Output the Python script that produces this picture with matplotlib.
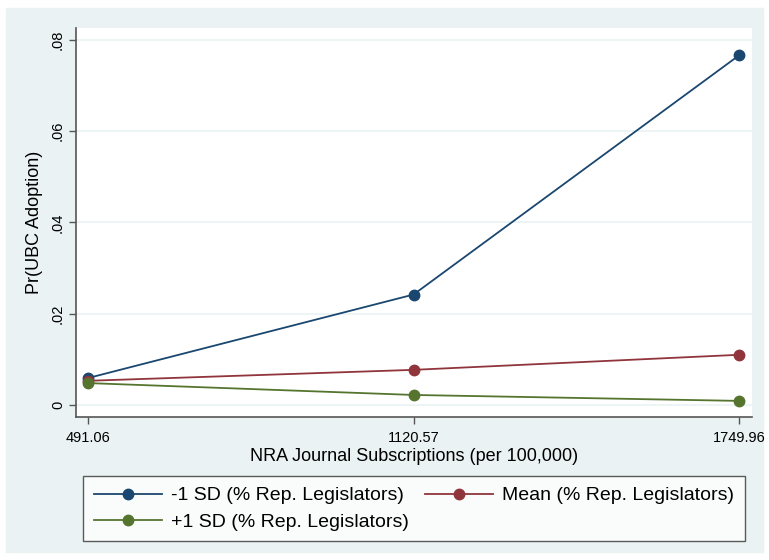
import matplotlib
matplotlib.use("Agg")
import matplotlib.pyplot as plt
import matplotlib.patches as patches

plt.rcParams['font.family'] = ['Liberation Sans', 'DejaVu Sans']

# data
nra = [491.06, 1120.57, 1749.96]
minus_sd = [0.0059, 0.0242, 0.0766]
mean_sd = [0.0053, 0.0077, 0.0110]
plus_sd = [0.0048, 0.0022, 0.0009]
yticks = [0, 0.02, 0.04, 0.06, 0.08]
ylabels = ['0', '.02', '.04', '.06', '.08']

navy = '#1a476f'
maroon = '#90353b'
green = '#55752f'
bg = '#eaf2f3'

W, H = 769, 560
fig = plt.figure(figsize=(W / 100, H / 100), dpi=100)
fig.patch.set_facecolor('white')
fig.patches.append(patches.Rectangle((6 / W, 8 / H), 757 / W, 544 / H,
                                     transform=fig.transFigure, color=bg, zorder=-10))

ax = fig.add_axes([76 / W, (H - 417) / H, 676 / W, 389 / H])
ax.set_facecolor('white')

h1, = ax.plot(nra, minus_sd, '-o', color=navy, lw=1.3, ms=7.5, label='-1 SD (% Rep. Legislators)', zorder=3)
h2, = ax.plot(nra, mean_sd, '-o', color=maroon, lw=1.3, ms=7.5, label='Mean (% Rep. Legislators)', zorder=3)
h3, = ax.plot(nra, plus_sd, '-o', color=green, lw=1.3, ms=7.5, label='+1 SD (% Rep. Legislators)', zorder=3)

ax.set_xlim(467.9, 1775.1)
ax.set_ylim(-0.00263, 0.0826)
ax.set_xticks(nra)
ax.set_xticklabels(['%.2f' % v for v in nra], fontsize=10.5)
ax.set_yticks(yticks)
ax.set_yticklabels(ylabels, fontsize=10.5, rotation=90, va='center')
ax.grid(axis='y', color=bg, lw=1.2)
ax.set_axisbelow(True)

for s in ['top', 'right']:
    ax.spines[s].set_visible(False)
for s in ['left', 'bottom']:
    ax.spines[s].set_color('#555555')
    ax.spines[s].set_linewidth(1.2)
ax.tick_params(length=5, width=1, color='#555555')
ax.tick_params(axis='x', pad=5)
ax.tick_params(axis='y', pad=3)

ax.set_xlabel('NRA Journal Subscriptions (per 100,000)', fontsize=13, labelpad=2)
ax.set_ylabel('Pr(UBC Adoption)', fontsize=13, labelpad=6)

leg = ax.legend([h1, h3, h2], [h1.get_label(), h3.get_label(), h2.get_label()],
                ncol=2, loc='upper left', bbox_to_anchor=(83 / W, 1 - 538 / H, 662 / W, 62 / H),
                bbox_transform=fig.transFigure, mode='expand', fontsize=14,
                frameon=True, fancybox=False, edgecolor='#333333', handlelength=3.5,
                handletextpad=0.5, borderaxespad=0, borderpad=0.55,
                columnspacing=1.0, labelspacing=0.45)
leg.get_frame().set_linewidth(1)

fig.savefig('out.png', dpi=100, facecolor='white')
